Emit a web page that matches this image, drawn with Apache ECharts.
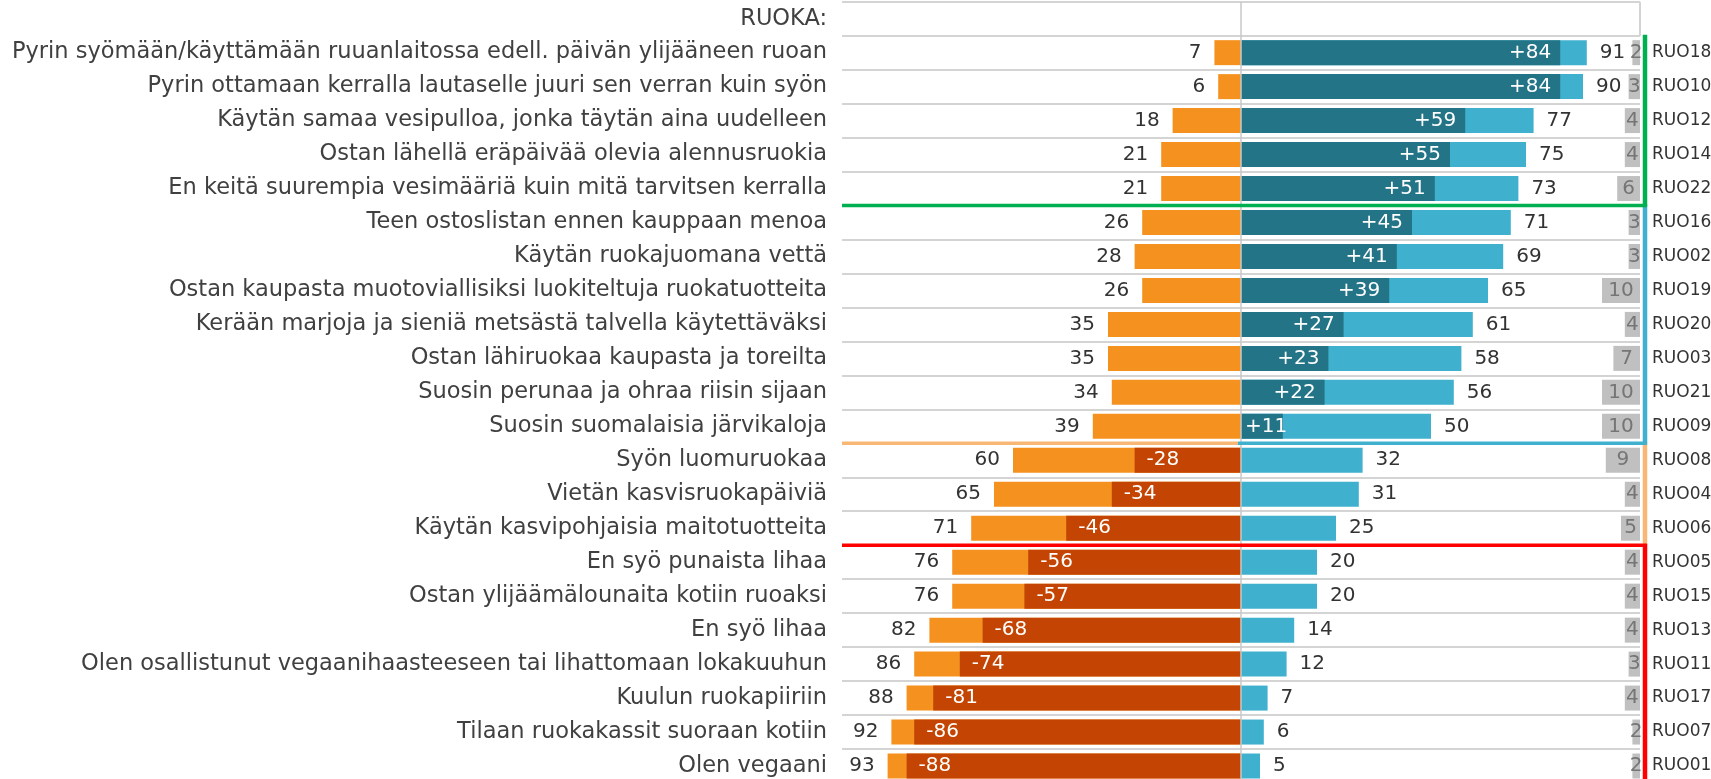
<!DOCTYPE html>
<html>
<head>
<meta charset="utf-8">
<script src="https://cdn.jsdelivr.net/npm/echarts@6/dist/echarts.min.js"></script>
<style>
html, body { margin: 0; padding: 0; background: #fff; }
#main { width: 1711px; height: 779px; }
</style>
</head>
<body>
<div id="main"></div>
<script>
// otsikkorivi + väittämät
var otsikko = 'RUOKA:';
var vaittamat = [
    'Pyrin syömään/käyttämään ruuanlaitossa edell. päivän ylijääneen ruoan',
    'Pyrin ottamaan kerralla lautaselle juuri sen verran kuin syön',
    'Käytän samaa vesipulloa, jonka täytän aina uudelleen',
    'Ostan lähellä eräpäivää olevia alennusruokia',
    'En keitä suurempia vesimääriä kuin mitä tarvitsen kerralla',
    'Teen ostoslistan ennen kauppaan menoa',
    'Käytän ruokajuomana vettä',
    'Ostan kaupasta muotoviallisiksi luokiteltuja ruokatuotteita',
    'Kerään marjoja ja sieniä metsästä talvella käytettäväksi',
    'Ostan lähiruokaa kaupasta ja toreilta',
    'Suosin perunaa ja ohraa riisin sijaan',
    'Suosin suomalaisia järvikaloja',
    'Syön luomuruokaa',
    'Vietän kasvisruokapäiviä',
    'Käytän kasvipohjaisia maitotuotteita',
    'En syö punaista lihaa',
    'Ostan ylijäämälounaita kotiin ruoaksi',
    'En syö lihaa',
    'Olen osallistunut vegaanihaasteeseen tai lihattomaan lokakuuhun',
    'Kuulun ruokapiiriin',
    'Tilaan ruokakassit suoraan kotiin',
    'Olen vegaani'
];
var koodit = ['RUO18','RUO10','RUO12','RUO14','RUO22','RUO16','RUO02','RUO19','RUO20','RUO03','RUO21',
    'RUO09','RUO08','RUO04','RUO06','RUO05','RUO15','RUO13','RUO11','RUO17','RUO07','RUO01'];

// prosentit
var ei    = [7, 6, 18, 21, 21, 26, 28, 26, 35, 35, 34, 39, 60, 65, 71, 76, 76, 82, 86, 88, 92, 93];
var kylla = [91, 90, 77, 75, 73, 71, 69, 65, 61, 58, 56, 50, 32, 31, 25, 20, 20, 14, 12, 7, 6, 5];
var netto = [84, 84, 59, 55, 51, 45, 41, 39, 27, 23, 22, 11, -28, -34, -46, -56, -57, -68, -74, -81, -86, -88];
var eos   = [2, 3, 4, 4, 6, 3, 3, 10, 4, 7, 10, 10, 9, 4, 5, 4, 4, 4, 3, 4, 2, 2];

// ryhmien reunaviivat (rivi-indeksit)
var ryhmat = [
    { alku: 0,  loppu: 4,  vari: '#00B050' },
    { alku: 5,  loppu: 11, vari: '#3FB0CD' },
    { alku: 12, loppu: 14, vari: '#F8B775' },
    { alku: 15, loppu: 21, vari: '#FF0000' }
];

var FONTTI = 'DejaVu Sans';
var XMAX = 105;

var myChart = echarts.init(document.getElementById('main'));

function rivit(arr) { return ['-'].concat(arr); }

var option = {
    animation: false,
    grid: { left: 842, width: 798, top: 1.7, height: 781.3, containLabel: false, outerBoundsMode: 'none' },
    xAxis: {
        type: 'value', min: -XMAX, max: XMAX,
        axisLabel: { show: false }, axisLine: { show: false }, axisTick: { show: false }, splitLine: { show: false }
    },
    yAxis: [{
        type: 'category', inverse: true,
        data: [otsikko].concat(vaittamat),
        axisLine: { show: false }, axisTick: { show: false },
        axisLabel: { interval: 0, margin: 15, fontSize: 22.5, color: '#404040', fontFamily: FONTTI },
        splitLine: { show: true, interval: 0, lineStyle: { color: '#D4D4D4', width: 2 } }
    }, {
        type: 'category', inverse: true, position: 'right',
        data: [''].concat(koodit),
        axisLine: { show: false }, axisTick: { show: false },
        axisLabel: { interval: 0, margin: 12, fontSize: 17, color: '#333', fontFamily: FONTTI },
        splitLine: { show: false }
    }],
    series: [{
        name: 'ei', type: 'bar', barWidth: 25, barGap: '-100%',
        data: rivit(ei.map(function (v) { return -v; })),
        itemStyle: { color: '#F5921F' },
        label: { show: true, position: 'left', distance: 13, fontSize: 20, color: '#333', fontFamily: FONTTI,
            formatter: function (p) { return Math.abs(p.value); } },
        markLine: { silent: true, symbol: ['none', 'none'], label: { show: false },
            lineStyle: { color: '#C8C8C8', width: 1.5, type: 'solid' }, data: [{ xAxis: 0 }] }
    }, {
        name: 'kyllä', type: 'bar', barWidth: 25, barGap: '-100%',
        data: rivit(kylla),
        itemStyle: { color: '#3FB0CD' },
        label: { show: true, position: 'right', distance: 13, fontSize: 20, color: '#333', fontFamily: FONTTI }
    }, {
        name: 'netto+', type: 'bar', barWidth: 25, barGap: '-100%',
        data: rivit(netto.map(function (v) {
            if (v <= 0) return '-';
            // lyhyellä palkilla teksti alkaa palkin alusta
            return v < 15 ? { value: v, label: { position: 'insideLeft', distance: 4 } } : v;
        })),
        itemStyle: { color: '#247487' },
        label: { show: true, position: 'insideRight', distance: 9, fontSize: 20, color: '#fff', fontFamily: FONTTI,
            formatter: function (p) { return '+' + p.value; } }
    }, {
        name: 'netto-', type: 'bar', barWidth: 25, barGap: '-100%',
        data: rivit(netto.map(function (v) { return v < 0 ? v : '-'; })),
        itemStyle: { color: '#C44503' },
        label: { show: true, position: 'insideLeft', distance: 12, fontSize: 20, color: '#fff', fontFamily: FONTTI }
    }, {
        name: 'pohja', type: 'bar', barWidth: 25, barGap: '-100%', stack: 'eos', silent: true,
        data: rivit(eos.map(function (v) { return XMAX - v; })),
        itemStyle: { color: 'rgba(0,0,0,0)' }
    }, {
        name: 'eos', type: 'bar', barWidth: 25, barGap: '-100%', stack: 'eos',
        data: rivit(eos),
        itemStyle: { color: '#C0C0C0' },
        label: { show: true, position: 'inside', fontSize: 20, color: '#757575', fontFamily: FONTTI }
    }]
};
myChart.setOption(option);

// reunaviivat ryhmille
var y0 = myChart.convertToPixel({ yAxisIndex: 0 }, 0);
var kaista = myChart.convertToPixel({ yAxisIndex: 0 }, 1) - y0;
function yla(r) { return myChart.convertToPixel({ yAxisIndex: 0 }, r + 1) - kaista / 2; }
function ala(r) { return myChart.convertToPixel({ yAxisIndex: 0 }, r + 1) + kaista / 2; }
var xv = myChart.convertToPixel({ xAxisIndex: 0 }, -XMAX);
var xo = myChart.convertToPixel({ xAxisIndex: 0 }, XMAX);
var xk = myChart.convertToPixel({ xAxisIndex: 0 }, 0);
var xr = xo + 5;

function viiva(x1, y1, x2, y2, vari, lw) {
    return { type: 'line', z: 50, silent: true, shape: { x1: x1, y1: y1, x2: x2, y2: y2 },
        style: { stroke: vari, lineWidth: lw } };
}
var viivat = [];
// otsikkorivin pystyviiva
viivat.push(viiva(xo, y0 - kaista / 2, xo, y0 + kaista / 2, '#D4D4D4', 2));
ryhmat.forEach(function (g) {
    viivat.push(viiva(xr, yla(g.alku) - 1, xr, Math.min(ala(g.loppu), 779) + 1, g.vari, 4.5));
});
// vihreä alareuna, sininen alareuna (oikea puoli), oranssi yläreuna (vasen puoli), punainen yläreuna
viivat.push(viiva(xv, ala(ryhmat[0].loppu), xr + 2, ala(ryhmat[0].loppu), ryhmat[0].vari, 3.5));
viivat.push(viiva(xk - 3, ala(ryhmat[1].loppu), xr + 2, ala(ryhmat[1].loppu), ryhmat[1].vari, 3.5));
viivat.push(viiva(xv, yla(ryhmat[2].alku), xk - 3, yla(ryhmat[2].alku), ryhmat[2].vari, 3.5));
viivat.push(viiva(xv, yla(ryhmat[3].alku), xr + 2, yla(ryhmat[3].alku), ryhmat[3].vari, 3.5));
myChart.setOption({ graphic: viivat });
</script>
</body>
</html>
